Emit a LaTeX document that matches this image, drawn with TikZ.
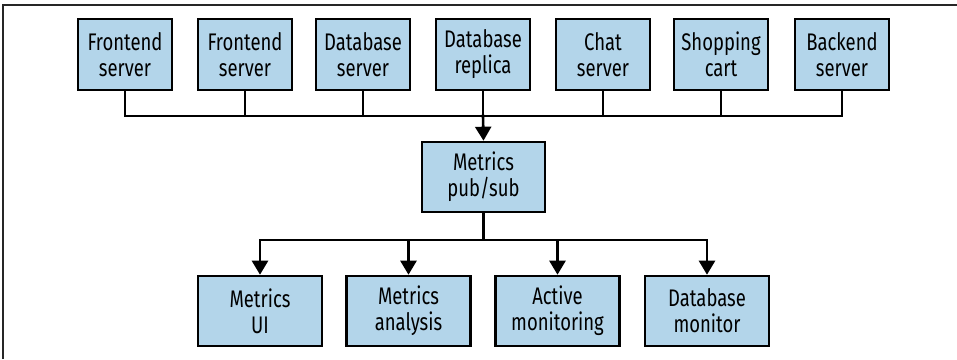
\documentclass[tikz,border=0pt]{standalone}
\usepackage{fontspec}
\setmainfont{Fira Sans}[FakeStretch=0.77]
\usepackage{tikz}
\usetikzlibrary{arrows.meta}
\definecolor{boxblue}{RGB}{179,213,234}

\begin{document}
\begin{tikzpicture}[x=1pt,y=1pt,line width=2.6pt,line cap=rect]
    \tikzstyle{service}=[draw=black,fill=boxblue,minimum width=94pt,minimum height=71pt,inner sep=0pt,align=center,font=\fontsize{24}{26}\selectfont]
    \tikzstyle{hub}=[service,minimum width=123pt,minimum height=70pt]
    \tikzstyle{consumer}=[service,minimum width=124pt,minimum height=70pt]
    \tikzstyle{feed}=[-{Triangle[length=14pt,width=16pt]}]

    \useasboundingbox (0,0) rectangle (957,-359);
    \draw[line width=1.5pt,black!85,line cap=butt] (3,-359) -- (3,-5) -- (957,-5);

    % Draw the services that publish metrics
    \foreach \name/\x/\txt in {1/125/{Frontend\\server},2/245/{Frontend\\server},
        3/363/{Database\\server},4/483/{Database\\replica},5/603/{Chat\\server},
        6/721/{Shopping\\cart},7/842/{Backend\\server}}
        \node[service] (S-\name) at (\x,-54.5) {\txt};

    % The pub/sub in the middle
    \node[hub] (P) at (483.5,-177) {Metrics\\pub/sub};

    % Draw the consumers of the metrics
    \foreach \name/\x/\txt in {1/260/{Metrics\\UI},2/408.5/{Metrics\\analysis},
        3/557.5/{Active\\monitoring},4/707/{Database\\monitor}}
        \node[consumer] (C-\name) at (\x,-311) {\txt};

    \coordinate (top bus) at (0,-116);
    \coordinate (low bus) at (0,-240);

    % Join every service to the bus above the pub/sub
    \draw (S-1.south |- top bus) -- (S-7.south |- top bus);
    \foreach \name in {1,...,7}
        \draw (S-\name.south) -- (S-\name.south |- top bus);
    \draw[feed] (S-4.south |- top bus) -- (P.north);

    % Fan out from the pub/sub to the consumers
    \draw (P.south) -- (P.south |- low bus);
    \draw (C-1.north |- low bus) -- (C-4.north |- low bus);
    \foreach \name in {1,...,4}
        \draw[feed] (C-\name.north |- low bus) -- (C-\name.north);
\end{tikzpicture}
\end{document}
